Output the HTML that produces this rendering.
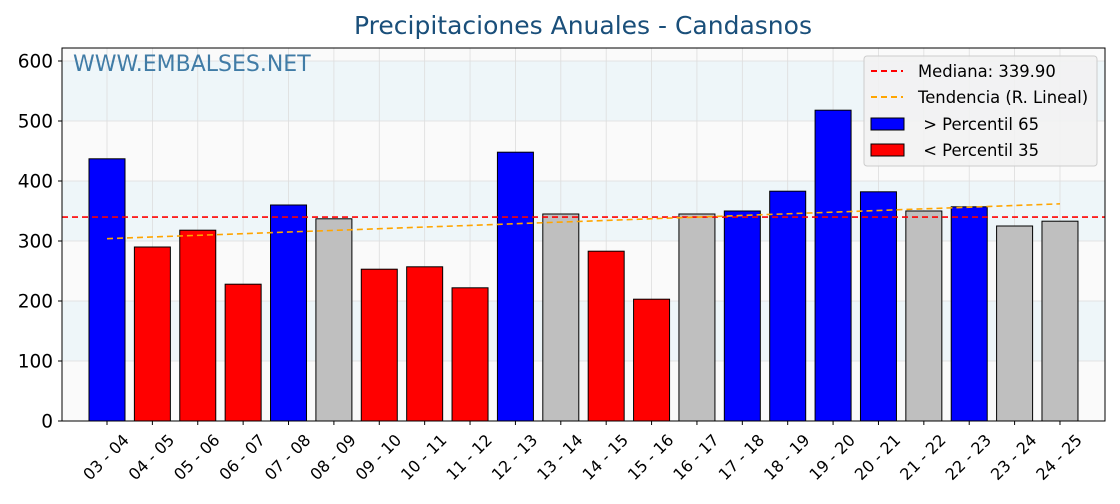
<!DOCTYPE html>
<html><head><meta charset="utf-8"><style>
body{margin:0;background:#fff;font-family:"DejaVu Sans","Liberation Sans",sans-serif}
</style></head><body>
<svg id="chart" width="1120" height="500" xmlns="http://www.w3.org/2000/svg" font-family="DejaVu Sans, Liberation Sans, sans-serif">
<rect width="1120" height="500" fill="#fff"/>
<text x="583" y="34" text-anchor="middle" font-size="25" fill="#1a4f7a">Precipitaciones Anuales - Candasnos</text>
<g id="bands"></g>
<g id="grid"></g>
<text x="73" y="71" font-size="22" fill="#2e6f9e" opacity="0.9">WWW.EMBALSES.NET</text>
<g id="bars"></g>
<g id="lines"></g>
<rect x="62" y="48" width="1043" height="373" fill="none" stroke="#000" stroke-width="1"/>
<g id="axes"></g>
<g>
<rect x="864" y="56" width="233" height="110" rx="3" fill="#f2f2f2" fill-opacity="0.9" stroke="#ccc"/>
<line x1="871" y1="71" x2="903" y2="71" stroke="red" stroke-width="2" stroke-dasharray="6,4"/>
<text x="918" y="77" font-size="16.4">Mediana: 339.90</text>
<line x1="871" y1="97" x2="903" y2="97" stroke="orange" stroke-width="2" stroke-dasharray="6,4"/>
<text x="918" y="103" font-size="16.4">Tendencia (R. Lineal)</text>
<rect x="871" y="118" width="33" height="12" fill="blue" stroke="#000"/>
<text x="918" y="130" font-size="16.4" xml:space="preserve"> &gt; Percentil 65</text>
<rect x="871" y="144" width="33" height="12" fill="red" stroke="#000"/>
<text x="918" y="156" font-size="16.4" xml:space="preserve"> &lt; Percentil 35</text>
</g>
</svg>
<script>
const categories=["03 - 04","04 - 05","05 - 06","06 - 07","07 - 08","08 - 09","09 - 10","10 - 11","11 - 12","12 - 13","13 - 14","14 - 15","15 - 16","16 - 17","17 - 18","18 - 19","19 - 20","20 - 21","21 - 22","22 - 23","23 - 24","24 - 25"];
const values=[437,290,318,228,360,337,253,257,222,448,345,283,203,345,350,383,518,382,350,357,325,333];
const colorsCat=["blue","red","red","red","blue","gray","red","red","red","blue","gray","red","red","gray","blue","blue","blue","blue","gray","blue","gray","gray"];
const yTicks=[0,100,200,300,400,500,600];
const median=[339.9];
const NS="http://www.w3.org/2000/svg";
const X0=107,DX=45.38,BW=36;
const x=i=>X0+i*DX;
const y=v=>421-v*0.6;
function mk(t,a,p){const e=document.createElementNS(NS,t);for(const k in a)e.setAttribute(k,a[k]);p.appendChild(e);return e;}
const bands=document.getElementById('bands'),grid=document.getElementById('grid'),bars=document.getElementById('bars'),lines=document.getElementById('lines'),axes=document.getElementById('axes');
mk('rect',{x:62,y:48,width:1043,height:373,fill:'#fafafa'},bands);
for(let k=0;k<6;k++){if(k%2===1){const b=mk('rect',{x:62,y:y(yTicks[k+1]),width:1043,height:y(yTicks[k])-y(yTicks[k+1]),fill:'#eef6f9'},bands);

}}
yTicks.forEach(t=>{const l=mk('line',{x1:62,x2:1105,y1:y(t),y2:y(t),stroke:'#ddd','stroke-width':0.8},grid);


mk('line',{x1:58,x2:62,y1:y(t),y2:y(t),stroke:'#000'},axes);
const tx=mk('text',{x:53,y:y(t)+6.5,'text-anchor':'end','font-size':18.5},axes);tx.textContent=t;

});
const fillMap={blue:'blue',red:'red',gray:'#bfbfbf'};
categories.forEach((c,i)=>{const gl=mk('line',{x1:x(i),x2:x(i),y1:48,y2:421,stroke:'#ddd','stroke-width':0.8},grid);


const r=mk('rect',{x:x(i)-BW/2,y:y(values[i]),width:BW,height:y(0)-y(values[i]),fill:fillMap[colorsCat[i]],stroke:'#000','stroke-width':1},bars);


mk('line',{x1:x(i),x2:x(i),y1:421,y2:425,stroke:'#000'},axes);
const ax=x(i)+23, ay=441;
const tx=mk('text',{x:ax,y:ay,'text-anchor':'end','font-size':16,transform:`rotate(-45 ${ax} ${ay})`},axes);tx.textContent=c;

});
const ml=mk('line',{x1:62,x2:1105,y1:y(median[0]),y2:y(median[0]),stroke:'red','stroke-width':1.6,'stroke-dasharray':'6,4'},lines);


const n=values.length;let sx=0,sy=0,sxx=0,sxy=0;values.forEach((v,i)=>{sx+=i;sy+=v;sxx+=i*i;sxy+=i*v;});
const m=(n*sxy-sx*sy)/(n*sxx-sx*sx),b=(sy-m*sx)/n;
const tl=mk('line',{x1:x(0),x2:x(n-1),y1:y(b),y2:y(b+m*(n-1)),stroke:'orange','stroke-width':1.6,'stroke-dasharray':'6,4'},lines);


</script>
</body></html>
